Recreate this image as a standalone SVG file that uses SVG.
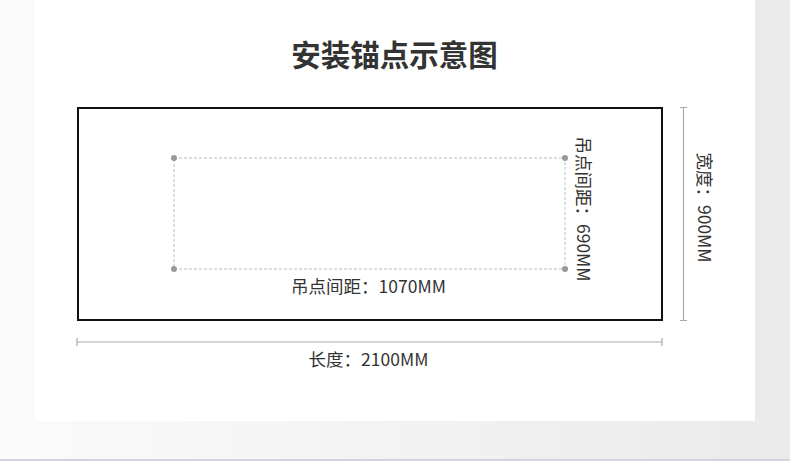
<svg xmlns="http://www.w3.org/2000/svg" width="790" height="461" viewBox="0 0 790 461">
<defs>
<linearGradient id="bg" x1="0" y1="0" x2="1" y2="0">
<stop offset="0" stop-color="#fbfbfb"/>
<stop offset="1" stop-color="#ebeaea"/>
</linearGradient>
<style>
.lbl{font-family:"Noto Sans CJK SC","Noto Sans",sans-serif;font-size:17.5px;fill:#333;}
.title{font-family:"Noto Sans CJK SC","Noto Sans",sans-serif;font-size:29.5px;font-weight:bold;fill:#333;}
.dim{stroke:#aaa;stroke-width:1.2;fill:none;}
.dash{stroke:#bbb;stroke-width:1;stroke-dasharray:3 2;fill:none;}
.dot{fill:#999;}
</style>
</defs>
<rect x="0" y="0" width="790" height="461" fill="url(#bg)"/>
<rect x="0" y="459" width="790" height="2" fill="#d2d6dc"/>
<rect x="35" y="0" width="720" height="421" fill="#ffffff"/>
<text class="title" x="394.5" y="66" text-anchor="middle">安装锚点示意图</text>
<g id="panel">
<rect x="78" y="108" width="584" height="212" fill="none" stroke="#111" stroke-width="2"/>
</g>
<g id="anchors">
<rect class="dash" x="174" y="158" width="391" height="111"/>
<circle class="dot" cx="174" cy="158" r="3"/>
<circle class="dot" cx="565" cy="158" r="3"/>
<circle class="dot" cx="174" cy="269" r="3"/>
<circle class="dot" cx="565" cy="269" r="3"/>
</g>
<g id="connectors">
<path class="dim" d="M683.5 107.5V320.5M680 107.5H687M680 320.5H687"/>
<path class="dim" d="M77 342H662M77 338V346M662 338V346"/>
</g>
<g id="labels">
<text class="lbl" x="368.5" y="293" text-anchor="middle">吊点间距：1070MM</text>
<text class="lbl" x="368.5" y="366" text-anchor="middle">长度：2100MM</text>
<text class="lbl" transform="translate(584,209) rotate(90)" text-anchor="middle" dominant-baseline="central">吊点间距：690MM</text>
<text class="lbl" transform="translate(705.5,207.5) rotate(90)" text-anchor="middle" dominant-baseline="central">宽度：900MM</text>
</g>
</svg>
